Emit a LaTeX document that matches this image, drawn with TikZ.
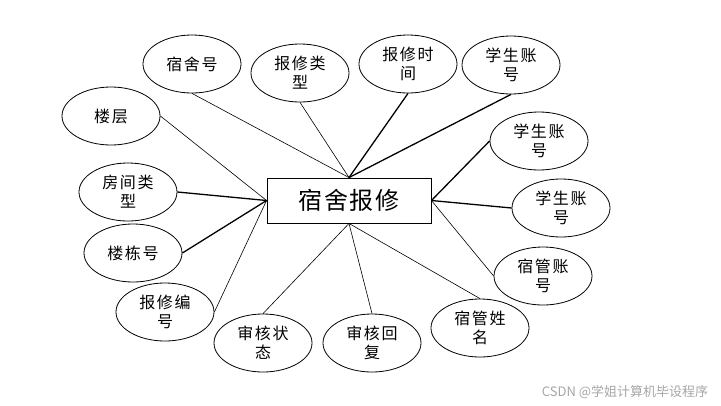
\documentclass[tikz,border=0pt]{standalone}
\usepackage{fontspec}
\setmainfont{Noto Sans CJK SC}
\usetikzlibrary{shapes.geometric}
\begin{document}
\begin{tikzpicture}[x=1pt,y=-1pt,
  attr/.style={ellipse, draw, line width=0.8pt, minimum width=98pt, minimum height=58pt, inner sep=0pt, align=center, font=\fontsize{16}{19}\selectfont\addfontfeature{LetterSpace=10}},
  ent/.style={rectangle, draw, line width=0.9pt, minimum width=164pt, minimum height=45pt, inner sep=0pt, font=\fontsize{24}{28}\selectfont\addfontfeature{LetterSpace=8}},
  lnthin/.style={line width=0.6pt},
  lnthick/.style={line width=1.3pt},
  wm/.style={font=\fontsize{13}{15}\selectfont, text=black!35}
]
\useasboundingbox (0,0) rectangle (721,405);
\node[ent] (main) at (349,200.5) {宿舍报修};
\node[attr] (sushehao) at (192,64) {宿舍号};
\node[attr] (louceng) at (111,116) {楼层};
\node[attr] (bxlx) at (300,73) {报修类\\型};
\node[attr] (bxsj) at (408,64) {报修时\\间};
\node[attr] (xszh1) at (511,65) {学生账\\号};
\node[attr] (xszh2) at (539,141) {学生账\\号};
\node[attr] (xszh3) at (561,208) {学生账\\号};
\node[attr] (sgzh) at (543,276) {宿管账\\号};
\node[attr] (sgxm) at (480,328) {宿管姓\\名};
\node[attr] (shhf) at (372,343) {审核回\\复};
\node[attr] (shzt) at (263,343) {审核状\\态};
\node[attr] (bxbh) at (165,312) {报修编\\号};
\node[attr] (ldh) at (133,253) {楼栋号};
\node[attr] (fjlx) at (128,192) {房间类\\型};
\draw[lnthin] (louceng.east) -- (main.west);
\draw[lnthin] (sushehao.south) -- (main.north);
\draw[lnthin] (bxlx.south) -- (main.north);
\draw[lnthick] (bxsj.south) -- (main.north);
\draw[lnthick] (xszh1.south) -- (main.north);
\draw[lnthick] (xszh2.west) -- (main.east);
\draw[lnthick] (xszh3.west) -- (main.east);
\draw[lnthin] (sgzh.west) -- (main.east);
\draw[lnthin] (sgxm.north) -- (main.south);
\draw[lnthin] (shhf.north) -- (main.south);
\draw[lnthin] (shzt.north) -- (main.south);
\draw[lnthin] (bxbh.east) -- (main.west);
\draw[lnthick] (ldh.east) -- (main.west);
\draw[lnthick] (fjlx.east) -- (main.west);
\node[wm] (mark) at (625,392) {CSDN @学姐计算机毕设程序};
\end{tikzpicture}
\end{document}
